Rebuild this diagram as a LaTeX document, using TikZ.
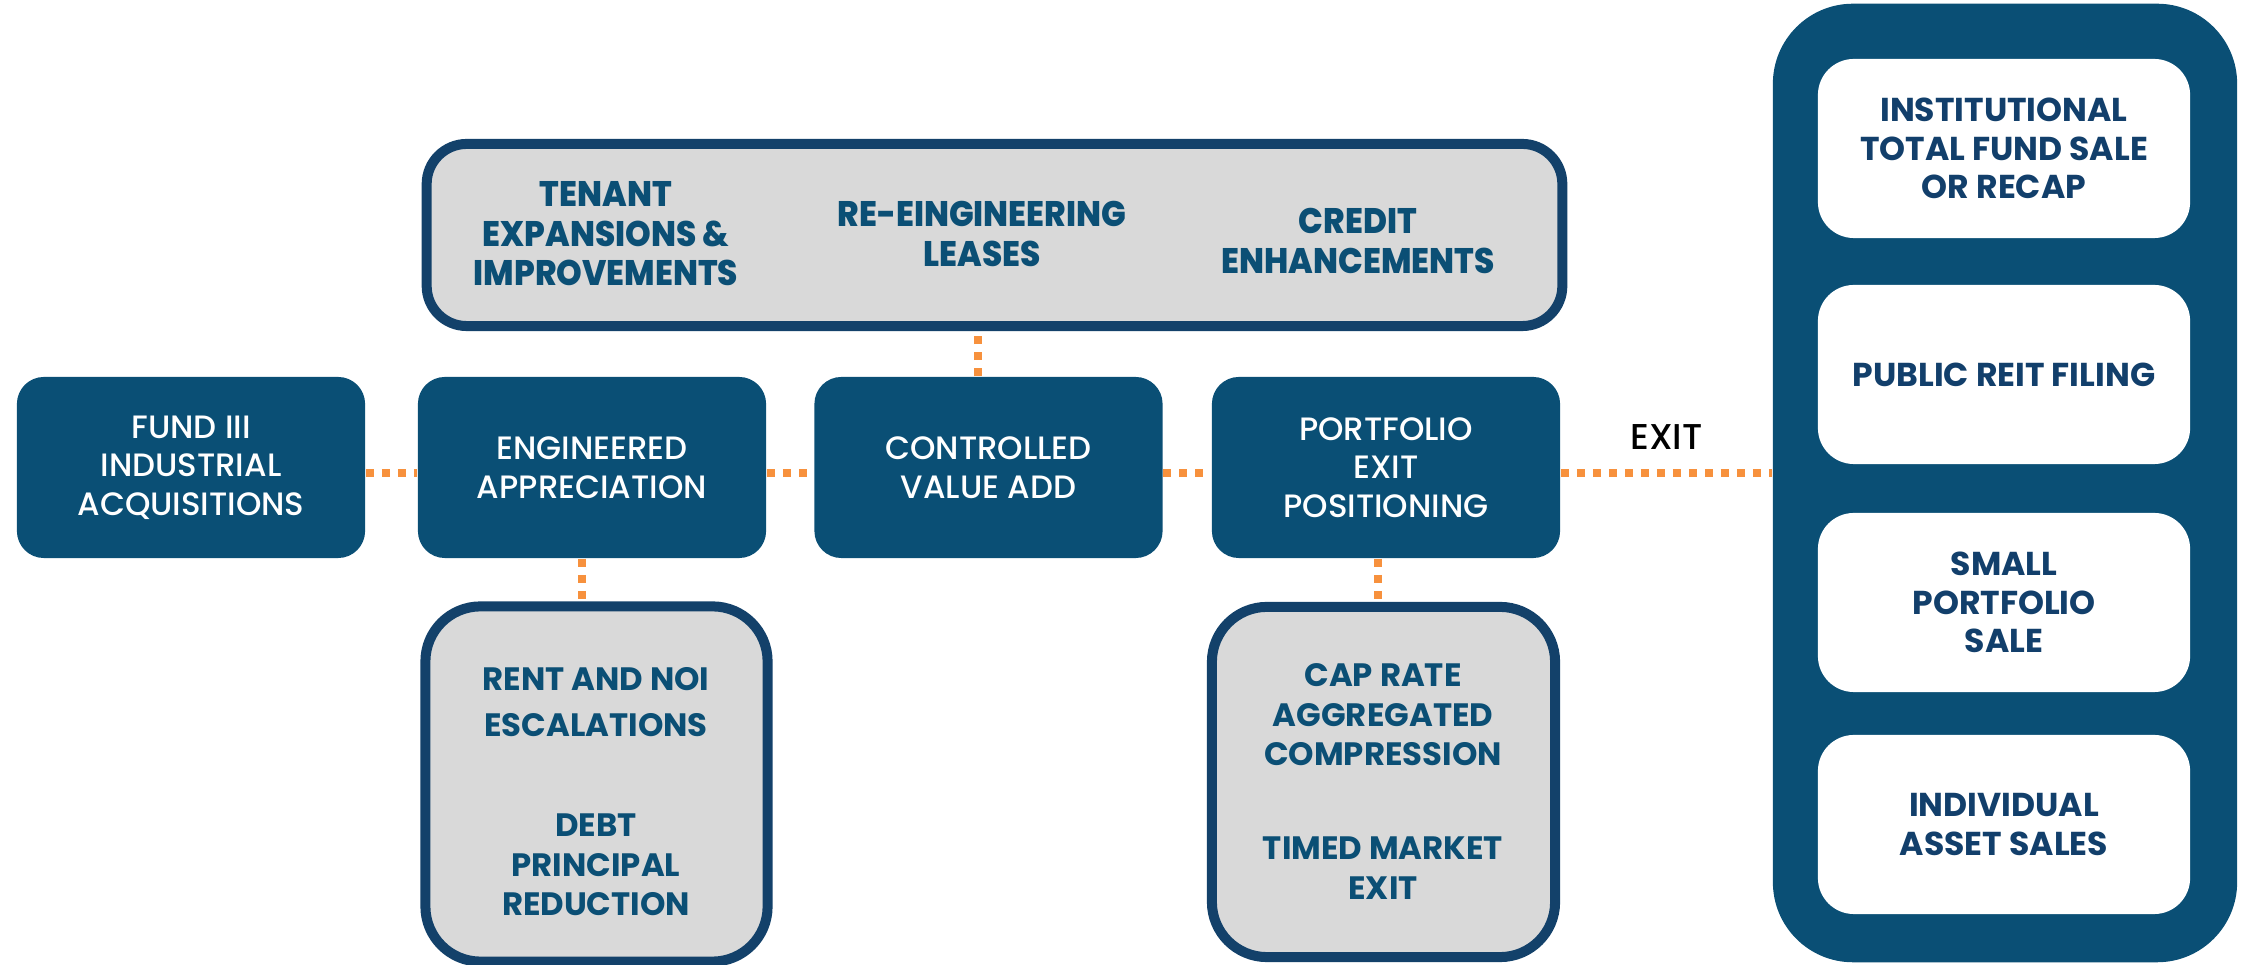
\documentclass[tikz,border=0pt]{standalone}
\usepackage{fontspec}
\newfontfamily\pop{Poppins}
\newfontfamily\popmed{Poppins Medium}
\newfontfamily\popcond{Poppins ExtraBold}[FakeStretch=0.92]
\definecolor{cBlue}{HTML}{0A4F75}
\definecolor{cNavy}{HTML}{13416A}
\definecolor{cGray}{HTML}{D9D9D9}
\definecolor{cOrange}{HTML}{F7913D}
\definecolor{cText}{HTML}{0B4F75}
\definecolor{cWText}{HTML}{123F6B}
\tikzset{
  mainbox/.style={fill=cBlue, rounded corners=0.27cm, minimum width=3.48cm, minimum height=1.81cm, inner sep=0pt,
    text=white, align=center, font=\popmed\fontsize{9.2}{11}\selectfont},
  graybox/.style={fill=cGray, draw=cNavy, line width=0.1cm, rounded corners=0.45cm, inner sep=0pt},
  toptext/.style={text=cText, align=center, inner sep=0pt, font=\popcond\fontsize{10.1}{11.2}\selectfont},
  lowtext/.style={text=cText, align=center, inner sep=0pt, font=\pop\bfseries\fontsize{9.2}{11.2}\selectfont},
  whitebox/.style={fill=white, rounded corners=0.36cm, minimum width=3.72cm, minimum height=1.79cm, inner sep=0pt,
    text=cWText, align=center, font=\pop\bfseries\fontsize{9.4}{11}\selectfont},
  panel/.style={fill=cBlue, rounded corners=0.8cm, minimum width=4.64cm, minimum height=9.58cm, inner sep=0pt},
  link/.style={draw=cOrange, line width=0.08cm, dash pattern=on 0.08cm off 0.08cm},
}
\begin{document}
\begin{tikzpicture}[x=0.01cm,y=-0.01cm]
\useasboundingbox (0,0) rectangle (2242,965);
% right panel
\node[panel] (panel) at (2005,483) {};
\node[whitebox] (w1) at (2004,148.5) {INSTITUTIONAL\\TOTAL FUND SALE\\OR RECAP};
\node[whitebox] (w2) at (2004,374.5) {PUBLIC REIT FILING};
\node[whitebox] (w3) at (2004,602.5) {SMALL\\PORTFOLIO\\SALE};
\node[whitebox] (w4) at (2004,824.5) {INDIVIDUAL\\ASSET SALES};
% main row
\node[mainbox] (f1) at (191,467.5) {FUND III\\INDUSTRIAL\\ACQUISITIONS};
\node[mainbox] (f2) at (592,467.5) {ENGINEERED\\APPRECIATION};
\node[mainbox] (f3) at (988.5,467.5) {CONTROLLED\\VALUE ADD};
\node[mainbox] (f4) at (1386,467.5) {PORTFOLIO\\EXIT\\POSITIONING};
% top gray box
\node[graybox, minimum width=11.35cm, minimum height=1.82cm, rounded corners=0.4cm] (top) at (994.5,235) {};
\node[toptext] (t1) at (606,234) {TENANT\\EXPANSIONS \&\\IMPROVEMENTS};
\node[toptext] (t2) at (982,234) {RE-EINGINEERING\\LEASES};
\node[toptext] (t3) at (1358,241) {CREDIT\\ENHANCEMENTS};
% bottom gray boxes
\node[graybox, minimum width=3.42cm, minimum height=3.55cm, rounded corners=0.55cm] (bl) at (596.5,784) {};
\node[lowtext, font=\pop\bfseries\fontsize{9.2}{13}\selectfont] (b1) at (596,702) {RENT AND NOI\\ESCALATIONS};
\node[lowtext] (b2) at (596,865) {DEBT\\PRINCIPAL\\REDUCTION};
\node[graybox, minimum width=3.43cm, minimum height=3.50cm, rounded corners=0.55cm] (br) at (1383.5,782) {};
\node[lowtext] (c1) at (1383,715) {CAP RATE\\AGGREGATED\\COMPRESSION};
\node[lowtext] (c2) at (1383,868) {TIMED MARKET\\EXIT};
% connectors
\draw[link] ([yshift=-0.055cm]f1.east) -- ([yshift=-0.055cm]f2.west);
\draw[link] ([yshift=-0.055cm]f2.east) -- ([yshift=-0.055cm]f3.west);
\draw[link] ([yshift=-0.055cm]f3.east) -- ([yshift=-0.055cm]f4.west);
\draw[link] ([yshift=-0.055cm]f4.east) coordinate (ex) -- (ex -| panel.west)
  node[midway, above=0.08cm, text=black, font=\popmed\fontsize{10.2}{12}\selectfont] (exitlbl) {EXIT};
\draw[link] ([xshift=-0.105cm]f3.north) -- ([xshift=-0.105cm]f3.north |- top.south);
\draw[link] ([xshift=-0.10cm]f2.south) -- ([xshift=-0.10cm]f2.south |- bl.north);
\draw[link] ([xshift=-0.08cm]f4.south) -- ([xshift=-0.08cm]f4.south |- br.north);
\end{tikzpicture}
\end{document}
